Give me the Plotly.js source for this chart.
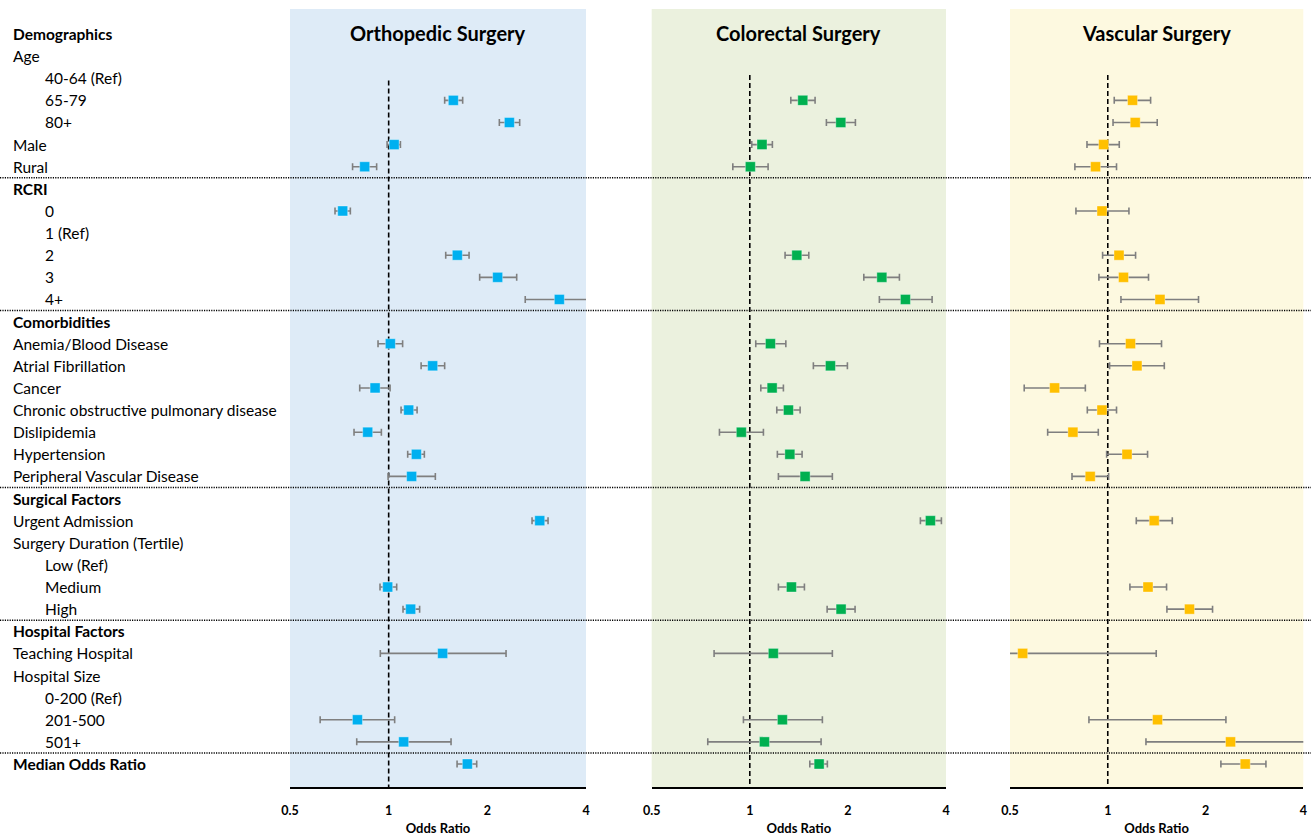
<!DOCTYPE html>
<html>
<head>
<meta charset="utf-8">
<script src="https://cdn.plot.ly/plotly-3.0.1.min.js"></script>
<style>html,body{margin:0;padding:0;background:#fff;}#chart{width:1311px;height:836px;}</style>
</head>
<body>
<div id="chart"></div>
<script>
// ---------- DATA ----------
const rowLabels = [
  "Demographics","Age","40-64 (Ref)","65-79","80+","Male","Rural",
  "RCRI","0","1 (Ref)","2","3","4+",
  "Comorbidities","Anemia/Blood Disease","Atrial Fibrillation","Cancer",
  "Chronic obstructive pulmonary disease","Dislipidemia","Hypertension","Peripheral Vascular Disease",
  "Surgical Factors","Urgent Admission","Surgery Duration (Tertile)","Low (Ref)","Medium","High",
  "Hospital Factors","Teaching Hospital","Hospital Size","0-200 (Ref)","201-500","501+",
  "Median Odds Ratio"
];
// h = section header, i = item, s = sub-item
const rowKinds = [
  "h","i","s","s","s","i","i",
  "h","s","s","s","s","s",
  "h","i","i","i","i","i","i","i",
  "h","i","i","s","s","s",
  "h","i","i","s","s","s",
  "h"
];
const panelTitles = ["Orthopedic Surgery","Colorectal Surgery","Vascular Surgery"];
const tickValues = [0.5, 1, 2, 4];
const tickLabels = ["0.5","1","2","4"];
const axisTitle = "Odds Ratio";

// Orthopedic
const orthoOR = [null,null,null,1.575,2.335,1.039,0.845, null,0.724,null,1.62,2.15,3.317,
  null,1.012,1.362,0.909,1.151,0.863,1.215,1.175, null,2.89,null,null,0.993,1.167,
  null,1.461,null,null,0.803,1.111, 1.738];
const orthoLo = [null,null,null,1.482,2.176,0.989,0.776, null,0.686,null,1.493,1.895,2.61,
  null,0.928,1.256,0.816,1.091,0.784,1.143,0.996, null,2.738,null,null,0.941,1.106,
  null,0.943,null,null,0.618,0.799, 1.617];
const orthoHi = [null,null,null,1.682,2.51,1.086,0.919, null,0.764,null,1.759,2.458,4.5,
  null,1.103,1.482,1.01,1.221,0.95,1.285,1.388, null,3.064,null,null,1.058,1.243,
  null,2.281,null,null,1.043,1.55, 1.856];

// Colorectal
const coloOR = [null,null,null,1.454,1.902,1.09,1.004, null,null,null,1.394,2.542,3.003,
  null,1.157,1.768,1.171,1.314,0.942,1.327,1.478, null,3.583,null,null,1.342,1.906,
  null,1.181,null,null,1.259,1.109, 1.632];
const coloLo = [null,null,null,1.336,1.718,1.014,0.887, null,null,null,1.283,2.238,2.498,
  null,1.043,1.567,1.081,1.21,0.807,1.215,1.224, null,3.338,null,null,1.224,1.727,
  null,0.777,null,null,0.956,0.743, 1.528];
const coloHi = [null,null,null,1.586,2.109,1.173,1.138, null,null,null,1.517,2.878,3.626,
  null,1.29,1.993,1.268,1.427,1.101,1.447,1.792, null,3.872,null,null,1.471,2.104,
  null,1.792,null,null,1.67,1.655, 1.73];

// Vascular
const vascOR = [null,null,null,1.192,1.215,0.971,0.917, null,0.96,null,1.083,1.118,1.448,
  null,1.175,1.23,0.686,0.96,0.781,1.146,0.883, null,1.39,null,null,1.33,1.785,
  null,0.547,null,null,1.423,2.388, 2.65];
const vascLo = [null,null,null,1.047,1.038,0.863,0.792, null,0.798,null,0.964,0.939,1.098,
  null,0.943,1.013,0.553,0.865,0.653,0.992,0.776, null,1.224,null,null,1.17,1.521,
  null,0.45,null,null,0.875,1.311, 2.23];
const vascHi = [null,null,null,1.355,1.42,1.085,1.064, null,1.162,null,1.218,1.335,1.903,
  null,1.464,1.493,0.853,1.064,0.935,1.326,1.006, null,1.58,null,null,1.517,2.102,
  null,1.41,null,null,2.311,4.5, 3.069];

// ---------- STYLE / LAYOUT ----------
const FONT = "Lato, 'Open Sans', sans-serif";
const W = 1311, H = 836;
const panelColors = ["#00B0F0","#00B050","#FFC000"];
const panelBg = ["#DEEBF7","#EBF1DE","#FDF9E0"];
const domains = [[290/W, 586/W],[651.7/W, 946/W],[1010/W, 1303.3/W]];
const axNames = ["x","x2","x3"];
const axKeys = ["xaxis","xaxis2","xaxis3"];
const refStart = [2.1, 1.85, 1.85];
const series = [[orthoOR,orthoLo,orthoHi],[coloOR,coloLo,coloHi],[vascOR,vascLo,vascHi]];
const rowIdx = rowLabels.map((_, i) => i);

const traces = [];
const shapes = [];
const annotations = [];
const layout = {
  width: W, height: H,
  margin: {l:0, r:0, t:9, b:49, pad:0},
  paper_bgcolor: "#ffffff", plot_bgcolor: "rgba(0,0,0,0)",
  showlegend: false,
  font: {family: FONT, color: "#000"},
  yaxis: {range: [34.04, -1.13], domain: [0,1], visible: false, fixedrange: true},
  shapes: shapes, annotations: annotations
};

series.forEach((s, p) => {
  const [or, lo, hi] = s;
  const xs = [], ys = [], ep = [], em = [];
  or.forEach((v, i) => {
    if (v === null) return;
    xs.push(v); ys.push(rowIdx[i]);
    ep.push(hi[i] - v); em.push(v - lo[i]);
  });
  // reference line at OR = 1
  traces.push({
    type: "scatter", mode: "lines", xaxis: axNames[p], yaxis: "y",
    x: [1, 1], y: [refStart[p], 35],
    line: {color: "#000", width: 1.6, dash: "5px,3px"}, hoverinfo: "skip"
  });
  traces.push({
    type: "scatter", mode: "markers", xaxis: axNames[p], yaxis: "y",
    x: xs, y: ys,
    marker: {symbol: "square", size: 10, color: panelColors[p],
             line: {width: 0.8, color: "rgba(255,255,255,0.45)"}},
    error_x: {type: "data", symmetric: false, array: ep, arrayminus: em,
              color: "#7F7F7F", thickness: 1.6, width: 3.5}
  });
  layout[axKeys[p]] = {
    type: "log", domain: domains[p], anchor: "y",
    range: [Math.log10(0.5), Math.log10(4)],
    tickvals: tickValues, ticktext: tickLabels, ticks: "",
    ticklabelstandoff: 11,
    tickfont: {family: FONT, size: 12.5, color: "#000", weight: 700},
    showgrid: false, zeroline: false,
    showline: true, linecolor: "#000", linewidth: 1.5,
    title: {text: "<b>" + axisTitle + "</b>", font: {family: FONT, size: 13, color: "#000"}, standoff: 8},
    fixedrange: true
  };
  shapes.push({
    type: "rect", xref: axNames[p] + " domain", yref: "paper",
    x0: 0, x1: 1, y0: 0, y1: 1, fillcolor: panelBg[p], line: {width: 0}, layer: "below"
  });
  annotations.push({
    xref: axNames[p] + " domain", yref: "y", x: 0.5, y: -0.05,
    text: "<b>" + panelTitles[p] + "</b>", showarrow: false,
    xanchor: "center", yanchor: "middle",
    font: {family: FONT, size: 20, color: "#000"}
  });
});

// section separators (dotted, full width)
rowKinds.forEach((k, i) => {
  if (k === "h" && i > 0) {
    shapes.push({type: "line", xref: "paper", yref: "y", x0: 0, x1: 1, y0: i - 0.5, y1: i - 0.5,
      line: {color: "#000", width: 1.5, dash: "1.2px,1.2px"}, layer: "above"});
  }
});

// row labels
rowLabels.forEach((lab, i) => {
  const k = rowKinds[i];
  annotations.push({
    xref: "paper", yref: "y", x: (k === "s" ? 43 : 11) / W, y: i,
    text: k === "h" ? "<b>" + lab + "</b>" : lab,
    showarrow: false, xanchor: "left", yanchor: "middle",
    font: {family: FONT, size: 15.5, color: "#000"}
  });
});

Plotly.newPlot("chart", traces, layout, {displayModeBar: false, staticPlot: true});
</script>
</body>
</html>
